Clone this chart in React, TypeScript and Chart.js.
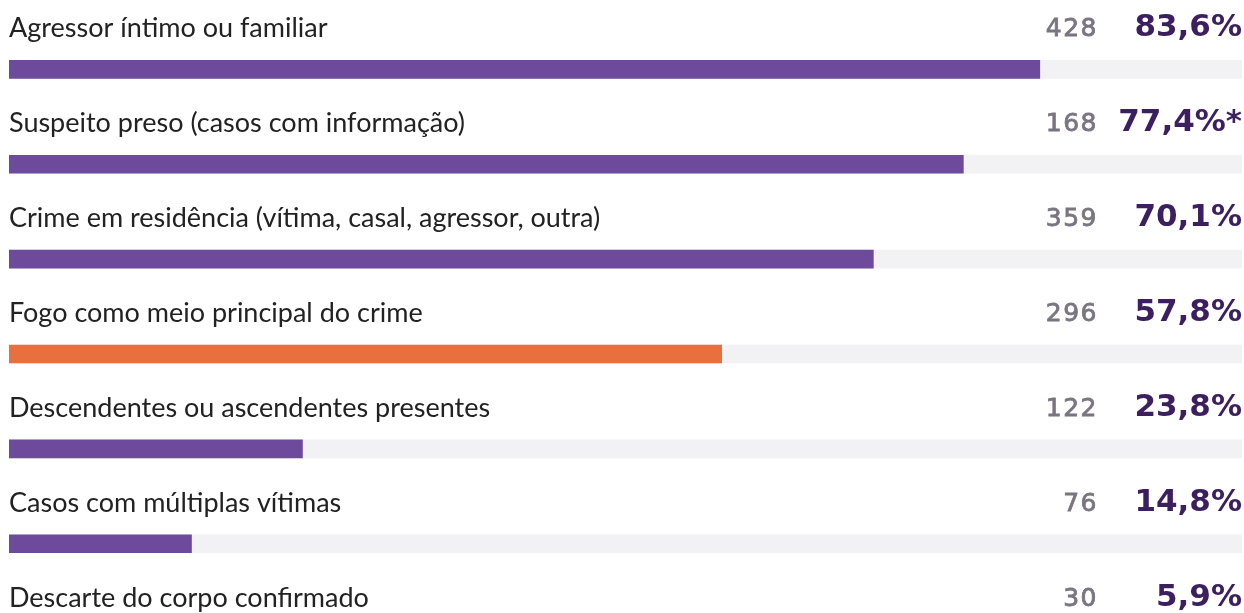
import React, { useEffect, useRef } from "react";
import { Chart, registerables } from "chart.js";

Chart.register(...registerables);

const categories = [
  "Agressor íntimo ou familiar",
  "Suspeito preso (casos com informação)",
  "Crime em residência (vítima, casal, agressor, outra)",
  "Fogo como meio principal do crime",
  "Descendentes ou ascendentes presentes",
  "Casos com múltiplas vítimas",
  "Descarte do corpo confirmado",
];
const percentages = [83.6, 77.4, 70.1, 57.8, 23.8, 14.8, 5.9];
const counts = [428, 168, 359, 296, 122, 76, 30];
const notes = ["", "*", "", "", "", "", ""];
const highlighted = [false, false, false, true, false, false, false];
const trackValues = [100, 100, 100, 100, 100, 100, 100];

const PURPLE = "#6d4a9c";
const ORANGE = "#e86f3e";
const TRACK = "#f2f2f4";

const labelsPlugin = {
  id: "rowLabels",
  afterDatasetsDraw(chart: any) {
    const { ctx, chartArea } = chart;
    const meta = chart.getDatasetMeta(0);
    ctx.save();
    meta.data.forEach((bar: any, i: number) => {
      const base = bar.y - 32;
      ctx.textBaseline = "alphabetic";
      ctx.fillStyle = "#222222";
      ctx.font = "27px Lato";
      ctx.textAlign = "left";
      (ctx as any).letterSpacing = "0px";
      ctx.fillText(categories[i], chartArea.left, base);

      ctx.textAlign = "right";
      ctx.fillStyle = "#3c1f5f";
      ctx.font = "bold 31px 'DejaVu Sans'";
      const pct = percentages[i].toFixed(1).replace(".", ",") + "%" + notes[i];
      ctx.fillText(pct, chartArea.right, base - 1);

      ctx.fillStyle = "#7a7580";
      ctx.strokeStyle = "#7a7580";
      ctx.lineWidth = 0.8;
      ctx.font = "25px 'DejaVu Sans'";
      (ctx as any).letterSpacing = "1.5px";
      ctx.fillText(String(counts[i]), chartArea.right - 144, base - 1);
      ctx.strokeText(String(counts[i]), chartArea.right - 144, base - 1);
      (ctx as any).letterSpacing = "0px";
    });
    ctx.restore();
  },
};

export default function App() {
  const ref = useRef<HTMLCanvasElement>(null);
  useEffect(() => {
    if (!ref.current) return;
    const chart = new Chart(ref.current, {
      type: "bar",
      data: {
        labels: categories,
        datasets: [
          {
            data: percentages,
            backgroundColor: highlighted.map((h) => (h ? ORANGE : PURPLE)),
            order: 0,
          },
          {
            data: trackValues,
            backgroundColor: TRACK,
            order: 1,
          },
        ],
      },
      options: {
        indexAxis: "y",
        animation: false,
        responsive: false,
        maintainAspectRatio: false,
        datasets: { bar: { grouped: false, barThickness: 18, borderWidth: 0 } },
        layout: { padding: { left: 9, right: 2, top: 22, bottom: 0 } },
        plugins: { legend: { display: false }, tooltip: { enabled: false } },
        scales: {
          x: { display: false, min: 0, max: 100 },
          y: { display: false },
        },
      },
      plugins: [labelsPlugin],
    });
    return () => chart.destroy();
  }, []);
  return (
    <div
      style={{
        position: "absolute",
        left: 0,
        top: 0,
        width: 1244,
        height: 613,
        overflow: "hidden",
        background: "#ffffff",
      }}
    >
      <canvas ref={ref} width={1244} height={686} style={{ display: "block" }} />
    </div>
  );
}
